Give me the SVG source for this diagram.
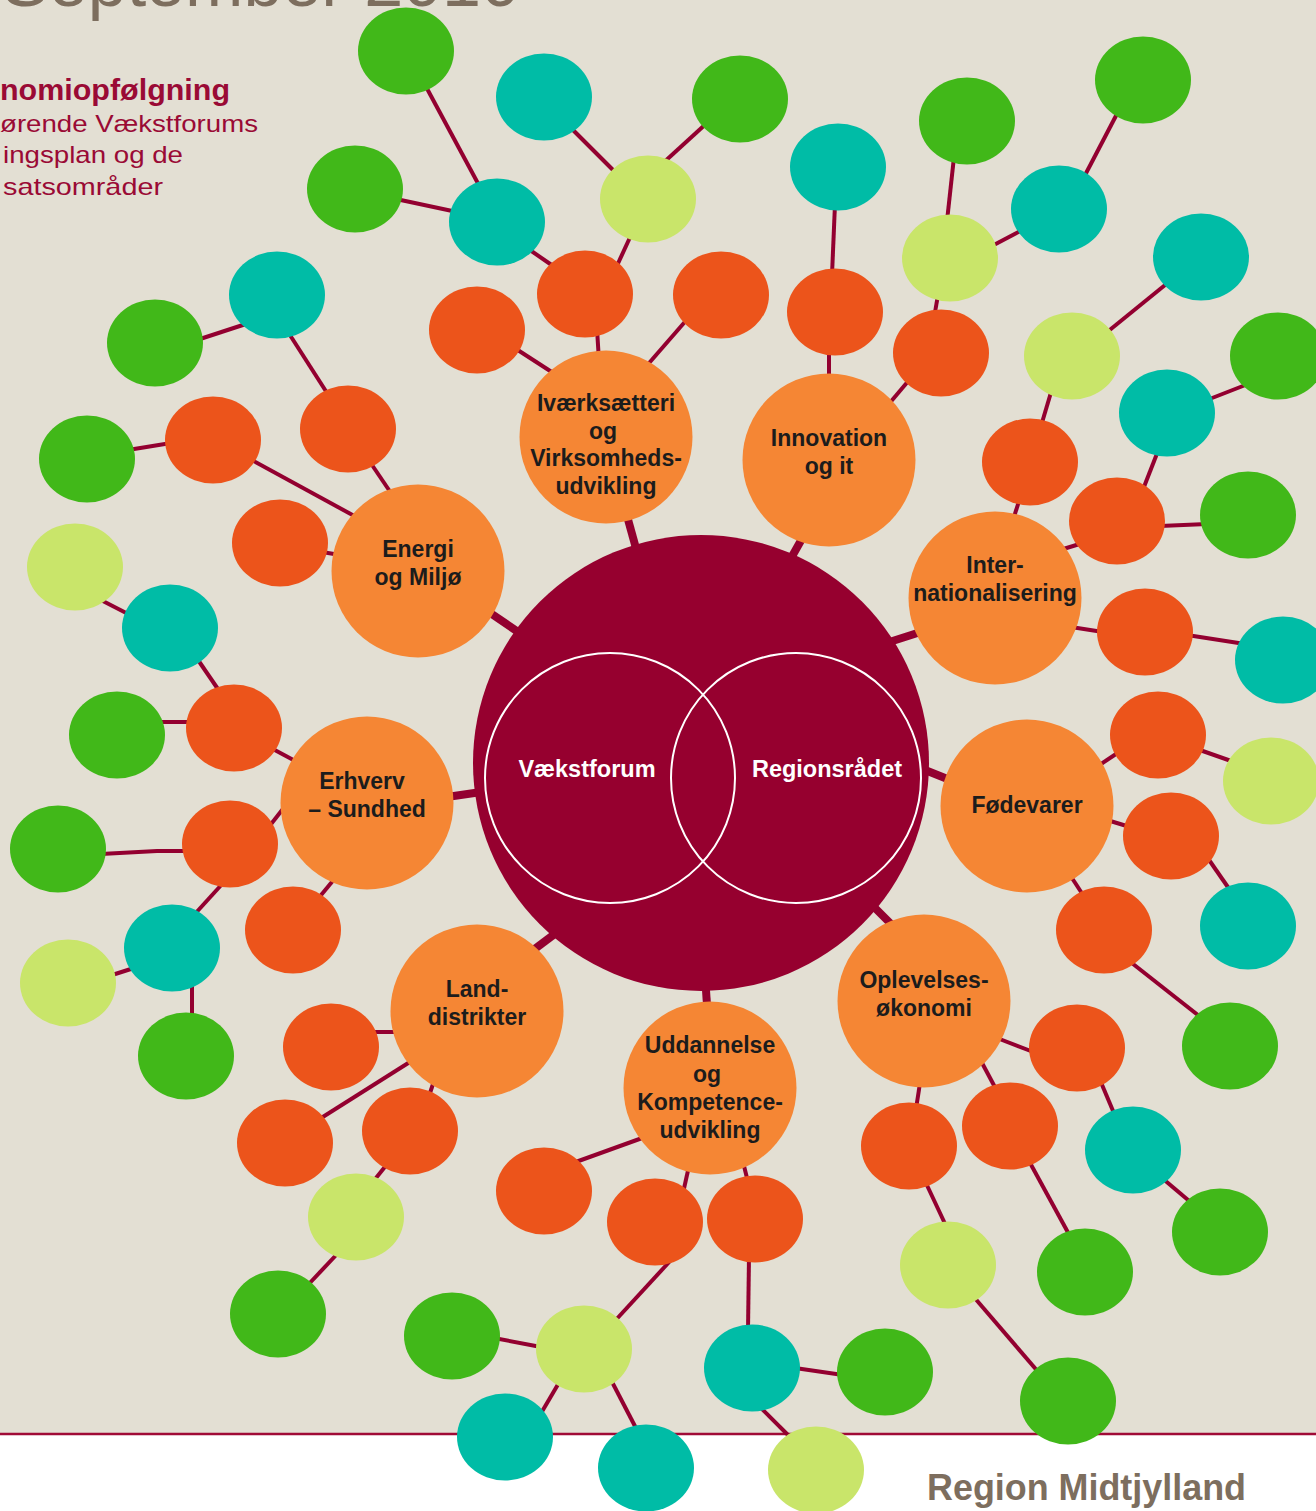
<svg xmlns="http://www.w3.org/2000/svg" width="1316" height="1511" viewBox="0 0 1316 1511">
<style>
.e{stroke:#930030;stroke-width:4;fill:none}
.k{stroke:#930030;stroke-width:8}
.o{fill:#ec541b}.t{fill:#00bca6}.g{fill:#41b819}.l{fill:#c9e56a}
.hub{fill:#f58634}
.ht{font-family:"Liberation Sans",Arial,sans-serif;font-weight:bold;font-size:23px;fill:#1c1c1c;text-anchor:middle}
.vt{font-family:"Liberation Sans",Arial,sans-serif;font-weight:bold;font-size:23.5px;fill:#ffffff;text-anchor:middle}
.tl{font-family:"Liberation Sans",Arial,sans-serif;fill:#9a0a35}
.gr{font-family:"Liberation Sans",Arial,sans-serif;fill:#7d6e5e}
</style>
<rect x="0" y="0" width="1316" height="1511" fill="#e3dfd3"/>
<rect x="0" y="1434" width="1316" height="77" fill="#ffffff"/>
<line x1="0" y1="1434" x2="1316" y2="1434" stroke="#a00a36" stroke-width="2.5"/>

<g id="title">
<text class="gr" x="2" y="6" font-size="70" textLength="518" lengthAdjust="spacingAndGlyphs">September 2010</text>
<text class="tl" x="0" y="100" font-size="29" font-weight="bold" textLength="230" lengthAdjust="spacingAndGlyphs">nomiopfølgning</text>
<text class="tl" x="0" y="132" font-size="24" textLength="258" lengthAdjust="spacingAndGlyphs">ørende Vækstforums</text>
<text class="tl" x="3" y="163" font-size="24" textLength="180" lengthAdjust="spacingAndGlyphs">ingsplan og de</text>
<text class="tl" x="3" y="195" font-size="24" textLength="160" lengthAdjust="spacingAndGlyphs">satsområder</text>
</g>

<g id="connectors">
<line class="k" x1="637" y1="552" x2="624" y2="505"/>
<line class="k" x1="790" y1="560" x2="808" y2="528"/>
<line class="k" x1="530" y1="640" x2="480" y2="606"/>
<line class="k" x1="880" y1="645" x2="930" y2="629"/>
<line class="k" x1="495" y1="790" x2="440" y2="798"/>
<line class="k" x1="915" y1="766" x2="955" y2="782"/>
<line class="k" x1="860" y1="893" x2="900" y2="933"/>
<line class="k" x1="705" y1="975" x2="708" y2="1020"/>
<line class="k" x1="560" y1="930" x2="520" y2="960"/>

<line class="e" x1="424" y1="83" x2="481" y2="189"/>
<line class="e" x1="396" y1="199" x2="457" y2="212"/>
<line class="e" x1="570" y1="127" x2="617" y2="174"/>
<line class="e" x1="708" y1="122" x2="662" y2="164"/>
<line class="e" x1="527" y1="248" x2="556" y2="268"/>
<line class="e" x1="632" y1="233" x2="615" y2="270"/>
<line class="e" x1="597" y1="328" x2="599" y2="362"/>
<line class="e" x1="690" y1="316" x2="643" y2="370"/>
<line class="e" x1="510" y1="345" x2="561" y2="378"/>

<line class="e" x1="835" y1="204" x2="832" y2="275"/>
<line class="e" x1="829" y1="350" x2="829" y2="380"/>
<line class="e" x1="954" y1="157" x2="947" y2="221"/>
<line class="e" x1="990" y1="247" x2="1024" y2="229"/>
<line class="e" x1="1083" y1="179" x2="1119" y2="110"/>
<line class="e" x1="938" y1="295" x2="934" y2="318"/>
<line class="e" x1="910" y1="379" x2="888" y2="405"/>

<line class="e" x1="1106" y1="333" x2="1170" y2="281"/>
<line class="e" x1="1207" y1="400" x2="1248" y2="384"/>
<line class="e" x1="1052" y1="389" x2="1041" y2="426"/>
<line class="e" x1="1020" y1="498" x2="1013" y2="520"/>
<line class="e" x1="1158" y1="451" x2="1142" y2="492"/>
<line class="e" x1="1160" y1="526" x2="1207" y2="524"/>
<line class="e" x1="1060" y1="550" x2="1083" y2="543"/>
<line class="e" x1="1071" y1="627" x2="1103" y2="632"/>
<line class="e" x1="1187" y1="635" x2="1245" y2="644"/>

<line class="e" x1="1098" y1="766" x2="1119" y2="752"/>
<line class="e" x1="1197" y1="749" x2="1234" y2="762"/>
<line class="e" x1="1107" y1="820" x2="1130" y2="827"/>
<line class="e" x1="1207" y1="857" x2="1232" y2="893"/>
<line class="e" x1="1070" y1="875" x2="1085" y2="898"/>
<line class="e" x1="1128" y1="960" x2="1203" y2="1019"/>

<line class="e" x1="997" y1="1038" x2="1036" y2="1053"/>
<line class="e" x1="1100" y1="1080" x2="1116" y2="1118"/>
<line class="e" x1="1162" y1="1178" x2="1194" y2="1205"/>
<line class="e" x1="981" y1="1061" x2="997" y2="1091"/>
<line class="e" x1="1029" y1="1161" x2="1071" y2="1238"/>
<line class="e" x1="920" y1="1083" x2="916" y2="1109"/>
<line class="e" x1="925" y1="1181" x2="947" y2="1228"/>
<line class="e" x1="973" y1="1296" x2="1040" y2="1374"/>

<line class="e" x1="645" y1="1137" x2="573" y2="1163"/>
<line class="e" x1="689" y1="1166" x2="683" y2="1193"/>
<line class="e" x1="743" y1="1162" x2="748" y2="1182"/>
<line class="e" x1="671" y1="1260" x2="613" y2="1323"/>
<line class="e" x1="541" y1="1347" x2="494" y2="1338"/>
<line class="e" x1="560" y1="1381" x2="540" y2="1415"/>
<line class="e" x1="610" y1="1378" x2="638" y2="1432"/>
<line class="e" x1="749" y1="1256" x2="748" y2="1331"/>
<line class="e" x1="795" y1="1368" x2="843" y2="1375"/>
<line class="e" x1="759" y1="1406" x2="792" y2="1439"/>

<line class="e" x1="370" y1="1032" x2="399" y2="1032"/>
<line class="e" x1="413" y1="1060" x2="318" y2="1120"/>
<line class="e" x1="434" y1="1081" x2="428" y2="1099"/>
<line class="e" x1="388" y1="1163" x2="372" y2="1183"/>
<line class="e" x1="339" y1="1252" x2="306" y2="1287"/>

<line class="e" x1="99" y1="599" x2="132" y2="616"/>
<line class="e" x1="196" y1="657" x2="222" y2="695"/>
<line class="e" x1="157" y1="722" x2="193" y2="722"/>
<line class="e" x1="271" y1="748" x2="299" y2="763"/>
<line class="e" x1="268" y1="828" x2="286" y2="805"/>
<polyline class="e" points="101,854 157,851 189,851"/>
<line class="e" x1="224" y1="882" x2="193" y2="916"/>
<line class="e" x1="109" y1="976" x2="134" y2="968"/>
<line class="e" x1="192" y1="982" x2="192" y2="1020"/>
<line class="e" x1="317" y1="900" x2="336" y2="877"/>

<line class="e" x1="197" y1="340" x2="249" y2="323"/>
<line class="e" x1="288" y1="332" x2="329" y2="396"/>
<line class="e" x1="370" y1="462" x2="393" y2="496"/>
<line class="e" x1="128" y1="450" x2="171" y2="443"/>
<line class="e" x1="250" y1="459" x2="358" y2="518"/>
<line class="e" x1="322" y1="552" x2="340" y2="555"/>
</g>

<g id="center">
<circle cx="701" cy="763" r="228" fill="#96002f"/>
<circle cx="610" cy="778" r="125" fill="none" stroke="#ffffff" stroke-width="2"/>
<circle cx="796" cy="778" r="125" fill="none" stroke="#ffffff" stroke-width="2"/>
<text class="vt" x="587" y="777">Vækstforum</text>
<text class="vt" x="827" y="777">Regionsrådet</text>
</g>

<g id="hub-ivaerksaetteri"><circle class="hub" cx="606" cy="437" r="86.5"/>
<text class="ht" x="606" y="411">Iværksætteri</text><text class="ht" x="603" y="439">og</text><text class="ht" x="606" y="466">Virksomheds-</text><text class="ht" x="606" y="494">udvikling</text></g>
<g id="hub-innovation"><circle class="hub" cx="829" cy="460" r="86.5"/>
<text class="ht" x="829" y="446">Innovation</text><text class="ht" x="829" y="474">og it</text></g>
<g id="hub-internationalisering"><circle class="hub" cx="995" cy="598" r="86.5"/>
<text class="ht" x="995" y="573">Inter-</text><text class="ht" x="995" y="601">nationalisering</text></g>
<g id="hub-foedevarer"><circle class="hub" cx="1027" cy="806" r="86.5"/>
<text class="ht" x="1027" y="813">Fødevarer</text></g>
<g id="hub-oplevelsesoekonomi"><circle class="hub" cx="924" cy="1001" r="86.5"/>
<text class="ht" x="924" y="988">Oplevelses-</text><text class="ht" x="924" y="1016">økonomi</text></g>
<g id="hub-uddannelse"><circle class="hub" cx="710" cy="1088" r="86.5"/>
<text class="ht" x="710" y="1053">Uddannelse</text><text class="ht" x="707" y="1082">og</text><text class="ht" x="710" y="1110">Kompetence-</text><text class="ht" x="710" y="1138">udvikling</text></g>
<g id="hub-landdistrikter"><circle class="hub" cx="477" cy="1011" r="86.5"/>
<text class="ht" x="477" y="997">Land-</text><text class="ht" x="477" y="1025">distrikter</text></g>
<g id="hub-erhverv"><circle class="hub" cx="367" cy="803" r="86.5"/>
<text class="ht" x="362" y="789">Erhverv</text><text class="ht" x="367" y="817">– Sundhed</text></g>
<g id="hub-energi"><circle class="hub" cx="418" cy="571" r="86.5"/>
<text class="ht" x="418" y="557">Energi</text><text class="ht" x="418" y="585">og Miljø</text></g>

<g id="n1"><ellipse class="g" cx="406" cy="51" rx="48" ry="43.5"/></g>
<g id="n2"><ellipse class="t" cx="544" cy="97" rx="48" ry="43.5"/></g>
<g id="n3"><ellipse class="g" cx="740" cy="99" rx="48" ry="43.5"/></g>
<g id="n4"><ellipse class="g" cx="355" cy="189" rx="48" ry="43.5"/></g>
<g id="n5"><ellipse class="t" cx="497" cy="222" rx="48" ry="43.5"/></g>
<g id="n6"><ellipse class="l" cx="648" cy="199" rx="48" ry="43.5"/></g>
<g id="n7"><ellipse class="o" cx="585" cy="294" rx="48" ry="43.5"/></g>
<g id="n8"><ellipse class="o" cx="721" cy="295" rx="48" ry="43.5"/></g>
<g id="n9"><ellipse class="o" cx="477" cy="330" rx="48" ry="43.5"/></g>

<g id="n10"><ellipse class="t" cx="838" cy="167" rx="48" ry="43.5"/></g>
<g id="n11"><ellipse class="g" cx="967" cy="121" rx="48" ry="43.5"/></g>
<g id="n12"><ellipse class="l" cx="950" cy="258" rx="48" ry="43.5"/></g>
<g id="n13"><ellipse class="t" cx="1059" cy="209" rx="48" ry="43.5"/></g>
<g id="n14"><ellipse class="g" cx="1143" cy="80" rx="48" ry="43.5"/></g>
<g id="n15"><ellipse class="o" cx="835" cy="312" rx="48" ry="43.5"/></g>
<g id="n16"><ellipse class="o" cx="941" cy="353" rx="48" ry="43.5"/></g>

<g id="n17"><ellipse class="t" cx="1201" cy="257" rx="48" ry="43.5"/></g>
<g id="n18"><ellipse class="l" cx="1072" cy="356" rx="48" ry="43.5"/></g>
<g id="n19"><ellipse class="g" cx="1278" cy="356" rx="48" ry="43.5"/></g>
<g id="n20"><ellipse class="t" cx="1167" cy="413" rx="48" ry="43.5"/></g>
<g id="n21"><ellipse class="o" cx="1030" cy="462" rx="48" ry="43.5"/></g>
<g id="n22"><ellipse class="o" cx="1117" cy="521" rx="48" ry="43.5"/></g>
<g id="n23"><ellipse class="g" cx="1248" cy="515" rx="48" ry="43.5"/></g>
<g id="n24"><ellipse class="o" cx="1145" cy="632" rx="48" ry="43.5"/></g>
<g id="n25"><ellipse class="t" cx="1283" cy="660" rx="48" ry="43.5"/></g>

<g id="n26"><ellipse class="o" cx="1158" cy="735" rx="48" ry="43.5"/></g>
<g id="n27"><ellipse class="l" cx="1271" cy="781" rx="48" ry="43.5"/></g>
<g id="n28"><ellipse class="o" cx="1171" cy="836" rx="48" ry="43.5"/></g>
<g id="n29"><ellipse class="t" cx="1248" cy="926" rx="48" ry="43.5"/></g>
<g id="n30"><ellipse class="o" cx="1104" cy="930" rx="48" ry="43.5"/></g>
<g id="n31"><ellipse class="g" cx="1230" cy="1046" rx="48" ry="43.5"/></g>

<g id="n32"><ellipse class="o" cx="1077" cy="1048" rx="48" ry="43.5"/></g>
<g id="n33"><ellipse class="t" cx="1133" cy="1150" rx="48" ry="43.5"/></g>
<g id="n34"><ellipse class="g" cx="1220" cy="1232" rx="48" ry="43.5"/></g>
<g id="n35"><ellipse class="o" cx="1010" cy="1126" rx="48" ry="43.5"/></g>
<g id="n36"><ellipse class="g" cx="1085" cy="1272" rx="48" ry="43.5"/></g>
<g id="n37"><ellipse class="o" cx="909" cy="1146" rx="48" ry="43.5"/></g>
<g id="n38"><ellipse class="l" cx="948" cy="1265" rx="48" ry="43.5"/></g>
<g id="n39"><ellipse class="g" cx="1068" cy="1401" rx="48" ry="43.5"/></g>

<g id="n40"><ellipse class="o" cx="544" cy="1191" rx="48" ry="43.5"/></g>
<g id="n41"><ellipse class="o" cx="655" cy="1222" rx="48" ry="43.5"/></g>
<g id="n42"><ellipse class="o" cx="755" cy="1219" rx="48" ry="43.5"/></g>
<g id="n43"><ellipse class="l" cx="584" cy="1349" rx="48" ry="43.5"/></g>
<g id="n44"><ellipse class="g" cx="452" cy="1336" rx="48" ry="43.5"/></g>
<g id="n45"><ellipse class="t" cx="505" cy="1437" rx="48" ry="43.5"/></g>
<g id="n46"><ellipse class="t" cx="646" cy="1468" rx="48" ry="43.5"/></g>
<g id="n47"><ellipse class="t" cx="752" cy="1368" rx="48" ry="43.5"/></g>
<g id="n48"><ellipse class="g" cx="885" cy="1372" rx="48" ry="43.5"/></g>
<g id="n49"><ellipse class="l" cx="816" cy="1470" rx="48" ry="43.5"/></g>

<g id="n50"><ellipse class="o" cx="331" cy="1047" rx="48" ry="43.5"/></g>
<g id="n51"><ellipse class="o" cx="285" cy="1143" rx="48" ry="43.5"/></g>
<g id="n52"><ellipse class="o" cx="410" cy="1131" rx="48" ry="43.5"/></g>
<g id="n53"><ellipse class="l" cx="356" cy="1217" rx="48" ry="43.5"/></g>
<g id="n54"><ellipse class="g" cx="278" cy="1314" rx="48" ry="43.5"/></g>

<g id="n55"><ellipse class="l" cx="75" cy="567" rx="48" ry="43.5"/></g>
<g id="n56"><ellipse class="t" cx="170" cy="628" rx="48" ry="43.5"/></g>
<g id="n57"><ellipse class="g" cx="117" cy="735" rx="48" ry="43.5"/></g>
<g id="n58"><ellipse class="o" cx="234" cy="728" rx="48" ry="43.5"/></g>
<g id="n59"><ellipse class="g" cx="58" cy="849" rx="48" ry="43.5"/></g>
<g id="n60"><ellipse class="o" cx="230" cy="844" rx="48" ry="43.5"/></g>
<g id="n61"><ellipse class="t" cx="172" cy="948" rx="48" ry="43.5"/></g>
<g id="n62"><ellipse class="l" cx="68" cy="983" rx="48" ry="43.5"/></g>
<g id="n63"><ellipse class="g" cx="186" cy="1056" rx="48" ry="43.5"/></g>
<g id="n64"><ellipse class="o" cx="293" cy="930" rx="48" ry="43.5"/></g>

<g id="n65"><ellipse class="t" cx="277" cy="295" rx="48" ry="43.5"/></g>
<g id="n66"><ellipse class="g" cx="155" cy="343" rx="48" ry="43.5"/></g>
<g id="n67"><ellipse class="o" cx="213" cy="440" rx="48" ry="43.5"/></g>
<g id="n68"><ellipse class="g" cx="87" cy="459" rx="48" ry="43.5"/></g>
<g id="n69"><ellipse class="o" cx="348" cy="429" rx="48" ry="43.5"/></g>
<g id="n70"><ellipse class="o" cx="280" cy="543" rx="48" ry="43.5"/></g>

<g id="footer">
<text class="gr" x="927" y="1500" font-size="36" font-weight="bold" textLength="319" lengthAdjust="spacingAndGlyphs">Region Midtjylland</text>
</g>
</svg>
